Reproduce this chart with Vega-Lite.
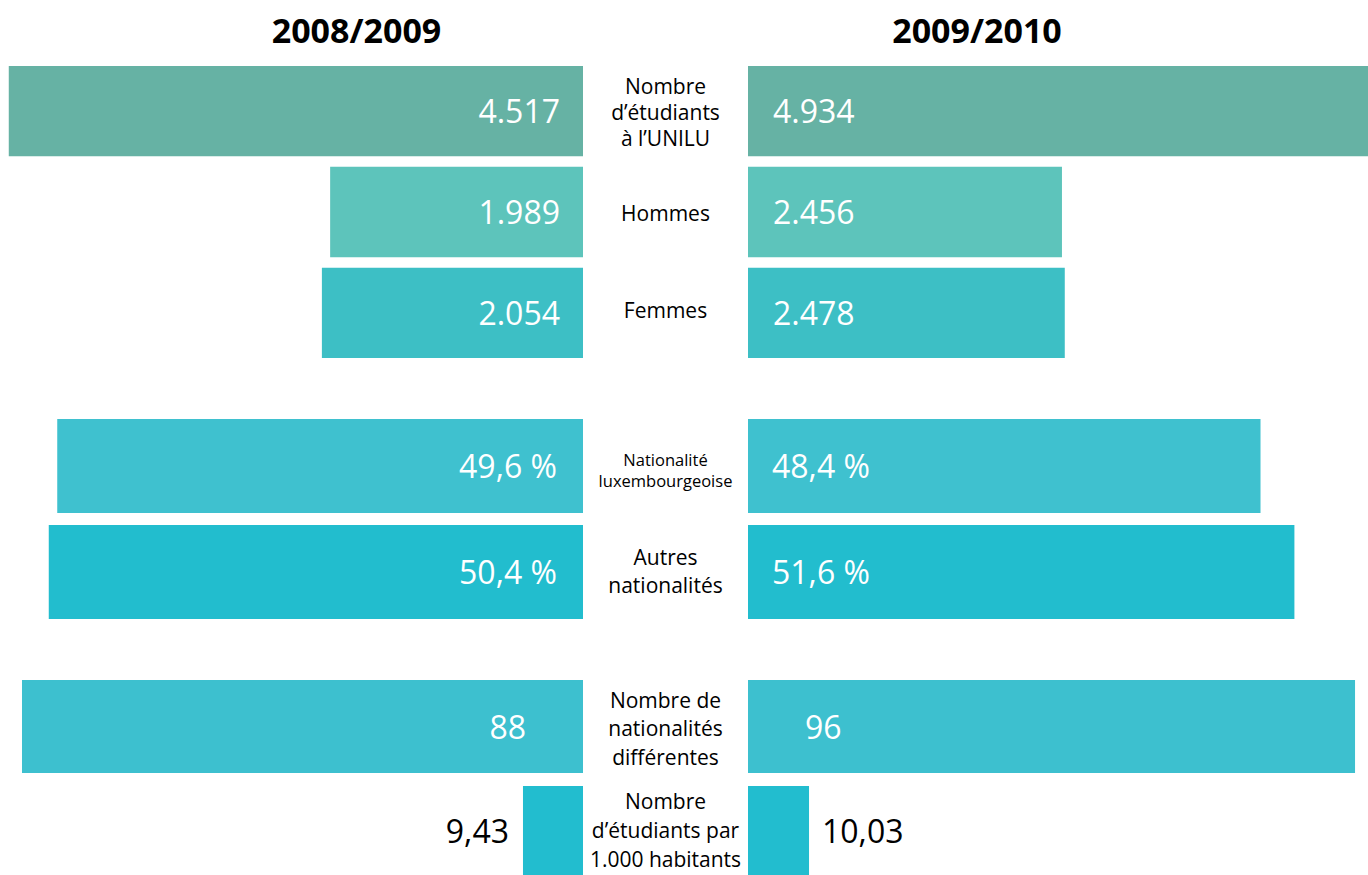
{
  "$schema": "https://vega.github.io/schema/vega-lite/v6.json",
  "padding": 0,
  "spacing": 0,
  "config": {
    "view": {"stroke": null},
    "locale": {"number": {"decimal": ",", "thousands": ".", "grouping": [3], "currency": ["", " €"], "percent": " %"}},
    "text": {"font": "Open Sans"}
  },
  "datasets": {
    "stats": [
      {"groupe": "effectifs", "mesure": "Nombre\nd’étudiants\nà l’UNILU", "annee": "2008/2009", "valeur": 4517},
      {"groupe": "effectifs", "mesure": "Nombre\nd’étudiants\nà l’UNILU", "annee": "2009/2010", "valeur": 4934},
      {"groupe": "effectifs", "mesure": "Hommes", "annee": "2008/2009", "valeur": 1989},
      {"groupe": "effectifs", "mesure": "Hommes", "annee": "2009/2010", "valeur": 2456},
      {"groupe": "effectifs", "mesure": "Femmes", "annee": "2008/2009", "valeur": 2054},
      {"groupe": "effectifs", "mesure": "Femmes", "annee": "2009/2010", "valeur": 2478},
      {"groupe": "nationalite", "mesure": "Nationalité\nluxembourgeoise", "annee": "2008/2009", "valeur": 0.496},
      {"groupe": "nationalite", "mesure": "Nationalité\nluxembourgeoise", "annee": "2009/2010", "valeur": 0.484},
      {"groupe": "nationalite", "mesure": "Autres\nnationalités", "annee": "2008/2009", "valeur": 0.504},
      {"groupe": "nationalite", "mesure": "Autres\nnationalités", "annee": "2009/2010", "valeur": 0.516},
      {"groupe": "diversite", "mesure": "Nombre de\nnationalités\ndifférentes", "annee": "2008/2009", "valeur": 88},
      {"groupe": "diversite", "mesure": "Nombre de\nnationalités\ndifférentes", "annee": "2009/2010", "valeur": 96},
      {"groupe": "densite", "mesure": "Nombre\nd’étudiants par\n1.000 habitants", "annee": "2008/2009", "valeur": 9.43},
      {"groupe": "densite", "mesure": "Nombre\nd’étudiants par\n1.000 habitants", "annee": "2009/2010", "valeur": 10.03}
    ]
  },
  "vconcat": [
    {
      "hconcat": [
        {
          "width": 583, "height": 66,
          "data": {"values": [{"annee": "2008/2009"}]},
          "mark": {"type": "text", "fontSize": 34, "fontWeight": "bold", "dx": 65, "color": "black"},
          "encoding": {"text": {"field": "annee", "type": "nominal"}}
        },
        {
          "width": 785, "height": 66,
          "data": {"values": [{"annee": "2009/2010"}]},
          "mark": {"type": "text", "fontSize": 34, "fontWeight": "bold", "dx": 1.5, "color": "black"},
          "encoding": {"text": {"field": "annee", "type": "nominal"}}
        }
      ],
      "spacing": 0, "bounds": "flush"
    },
    {
      "vconcat": [
        {
          "hconcat": [
            {
              "width": 583, "height": 292,
              "data": {"name": "stats"},
              "transform": [{"filter": {"and": [{"field": "groupe", "equal": "effectifs"}, {"field": "annee", "equal": "2008/2009"}]}}],
              "encoding": {"y": {"field": "mesure", "type": "nominal", "sort": null, "axis": null, "scale": {"paddingInner": 0.1045, "paddingOuter": 0}}},
              "layer": [
                {"mark": {"type": "bar", "clip": true},
                 "encoding": {
                   "x": {"field": "valeur", "type": "quantitative", "axis": null, "scale": {"domain": [0, 4586], "reverse": true, "nice": false}},
                   "color": {"field": "mesure", "type": "nominal", "legend": null, "scale": {"domain": ["Nombre\nd’étudiants\nà l’UNILU", "Hommes", "Femmes", "Nationalité\nluxembourgeoise", "Autres\nnationalités", "Nombre de\nnationalités\ndifférentes", "Nombre\nd’étudiants par\n1.000 habitants"], "range": ["#66b2a4", "#5dc4bb", "#3dbfc5", "#3fc1cf", "#22bdce", "#3dc0cf", "#22bdcf"]}}
                 }},
                {"mark": {"type": "text", "align": "right", "dx": -23, "dy": 2, "fontSize": 32, "color": "white"},
                 "encoding": {"x": {"datum": 0, "type": "quantitative"}, "text": {"field": "valeur", "type": "quantitative", "format": ",d"}}}
              ]
            },
            {
              "width": 165, "height": 292,
              "data": {"name": "stats"},
              "transform": [{"filter": {"and": [{"field": "groupe", "equal": "effectifs"}, {"field": "annee", "equal": "2008/2009"}]}}],
              "encoding": {
                "y": {"field": "mesure", "type": "nominal", "sort": null, "axis": null, "scale": {"paddingInner": 0.1045, "paddingOuter": 0}},
                "text": {"field": "mesure", "type": "nominal"}
              },
              "layer": [
                {"transform": [{"filter": {"field": "mesure", "equal": "Nombre\nd’étudiants\nà l’UNILU"}}],
                 "mark": {"type": "text", "fontSize": 21, "lineHeight": 26, "lineBreak": "\n", "dy": -27, "color": "black"}},
                {"transform": [{"filter": {"field": "mesure", "oneOf": ["Hommes", "Femmes"]}}],
                 "mark": {"type": "text", "fontSize": 21, "dy": 3, "color": "black"}}
              ]
            },
            {
              "width": 620, "height": 292,
              "data": {"name": "stats"},
              "transform": [{"filter": {"and": [{"field": "groupe", "equal": "effectifs"}, {"field": "annee", "equal": "2009/2010"}]}}],
              "encoding": {"y": {"field": "mesure", "type": "nominal", "sort": null, "axis": null, "scale": {"paddingInner": 0.1045, "paddingOuter": 0}}},
              "layer": [
                {"mark": {"type": "bar", "clip": true},
                 "encoding": {
                   "x": {"field": "valeur", "type": "quantitative", "axis": null, "scale": {"domain": [0, 4850], "nice": false}},
                   "color": {"field": "mesure", "type": "nominal", "legend": null, "scale": {"domain": ["Nombre\nd’étudiants\nà l’UNILU", "Hommes", "Femmes", "Nationalité\nluxembourgeoise", "Autres\nnationalités", "Nombre de\nnationalités\ndifférentes", "Nombre\nd’étudiants par\n1.000 habitants"], "range": ["#66b2a4", "#5dc4bb", "#3dbfc5", "#3fc1cf", "#22bdce", "#3dc0cf", "#22bdcf"]}}
                 }},
                {"mark": {"type": "text", "align": "left", "dx": 25, "dy": 2, "fontSize": 32, "color": "white"},
                 "encoding": {"x": {"datum": 0, "type": "quantitative"}, "text": {"field": "valeur", "type": "quantitative", "format": ",d"}}}
              ]
            }
          ],
          "spacing": 0, "bounds": "flush"
        },
        {
          "hconcat": [
            {
              "width": 583, "height": 200,
              "data": {"name": "stats"},
              "transform": [{"filter": {"and": [{"field": "groupe", "equal": "nationalite"}, {"field": "annee", "equal": "2008/2009"}]}}],
              "encoding": {"y": {"field": "mesure", "type": "nominal", "sort": null, "axis": null, "scale": {"paddingInner": 0.113, "paddingOuter": 0}}},
              "layer": [
                {"mark": {"type": "bar", "clip": true},
                 "encoding": {
                   "x": {"field": "valeur", "type": "quantitative", "axis": null, "scale": {"domain": [0, 0.55], "reverse": true, "nice": false}},
                   "color": {"field": "mesure", "type": "nominal", "legend": null, "scale": {"domain": ["Nombre\nd’étudiants\nà l’UNILU", "Hommes", "Femmes", "Nationalité\nluxembourgeoise", "Autres\nnationalités", "Nombre de\nnationalités\ndifférentes", "Nombre\nd’étudiants par\n1.000 habitants"], "range": ["#66b2a4", "#5dc4bb", "#3dbfc5", "#3fc1cf", "#22bdce", "#3dc0cf", "#22bdcf"]}}
                 }},
                {"mark": {"type": "text", "align": "right", "dx": -26, "dy": 2, "fontSize": 32, "color": "white"},
                 "encoding": {"x": {"datum": 0, "type": "quantitative"}, "text": {"field": "valeur", "type": "quantitative", "format": ".1%"}}}
              ]
            },
            {
              "width": 165, "height": 200,
              "data": {"name": "stats"},
              "transform": [{"filter": {"and": [{"field": "groupe", "equal": "nationalite"}, {"field": "annee", "equal": "2008/2009"}]}}],
              "encoding": {
                "y": {"field": "mesure", "type": "nominal", "sort": null, "axis": null, "scale": {"paddingInner": 0.113, "paddingOuter": 0}},
                "text": {"field": "mesure", "type": "nominal"}
              },
              "layer": [
                {"transform": [{"filter": {"field": "mesure", "equal": "Nationalité\nluxembourgeoise"}}],
                 "mark": {"type": "text", "fontSize": 16.5, "lineHeight": 21, "lineBreak": "\n", "dy": -8, "color": "black"}},
                {"transform": [{"filter": {"field": "mesure", "equal": "Autres\nnationalités"}}],
                 "mark": {"type": "text", "fontSize": 21, "lineHeight": 28, "lineBreak": "\n", "dy": -10, "color": "black"}}
              ]
            },
            {
              "width": 620, "height": 200,
              "data": {"name": "stats"},
              "transform": [{"filter": {"and": [{"field": "groupe", "equal": "nationalite"}, {"field": "annee", "equal": "2009/2010"}]}}],
              "encoding": {"y": {"field": "mesure", "type": "nominal", "sort": null, "axis": null, "scale": {"paddingInner": 0.113, "paddingOuter": 0}}},
              "layer": [
                {"mark": {"type": "bar", "clip": true},
                 "encoding": {
                   "x": {"field": "valeur", "type": "quantitative", "axis": null, "scale": {"domain": [0, 0.5855], "nice": false}},
                   "color": {"field": "mesure", "type": "nominal", "legend": null, "scale": {"domain": ["Nombre\nd’étudiants\nà l’UNILU", "Hommes", "Femmes", "Nationalité\nluxembourgeoise", "Autres\nnationalités", "Nombre de\nnationalités\ndifférentes", "Nombre\nd’étudiants par\n1.000 habitants"], "range": ["#66b2a4", "#5dc4bb", "#3dbfc5", "#3fc1cf", "#22bdce", "#3dc0cf", "#22bdcf"]}}
                 }},
                {"mark": {"type": "text", "align": "left", "dx": 24, "dy": 2, "fontSize": 32, "color": "white"},
                 "encoding": {"x": {"datum": 0, "type": "quantitative"}, "text": {"field": "valeur", "type": "quantitative", "format": ".1%"}}}
              ]
            }
          ],
          "spacing": 0, "bounds": "flush"
        },
        {
          "vconcat": [
            {
              "hconcat": [
                {
                  "width": 583, "height": 93,
                  "data": {"name": "stats"},
                  "transform": [{"filter": {"and": [{"field": "groupe", "equal": "diversite"}, {"field": "annee", "equal": "2008/2009"}]}}],
                  "encoding": {"y": {"field": "mesure", "type": "nominal", "sort": null, "axis": null, "scale": {"paddingInner": 0, "paddingOuter": 0}}},
                  "layer": [
                    {"mark": {"type": "bar", "clip": true},
                     "encoding": {
                       "x": {"field": "valeur", "type": "quantitative", "axis": null, "scale": {"domain": [0, 91.45], "reverse": true, "nice": false}},
                       "color": {"field": "mesure", "type": "nominal", "legend": null, "scale": {"domain": ["Nombre\nd’étudiants\nà l’UNILU", "Hommes", "Femmes", "Nationalité\nluxembourgeoise", "Autres\nnationalités", "Nombre de\nnationalités\ndifférentes", "Nombre\nd’étudiants par\n1.000 habitants"], "range": ["#66b2a4", "#5dc4bb", "#3dbfc5", "#3fc1cf", "#22bdce", "#3dc0cf", "#22bdcf"]}}
                     }},
                    {"mark": {"type": "text", "align": "right", "dx": -57, "dy": 2, "fontSize": 32, "color": "white"},
                     "encoding": {"x": {"datum": 0, "type": "quantitative"}, "text": {"field": "valeur", "type": "quantitative", "format": "d"}}}
                  ]
                },
                {
                  "width": 165, "height": 93,
                  "data": {"name": "stats"},
                  "transform": [{"filter": {"and": [{"field": "groupe", "equal": "diversite"}, {"field": "annee", "equal": "2008/2009"}]}}],
                  "mark": {"type": "text", "fontSize": 21, "lineHeight": 28.5, "lineBreak": "\n", "dy": -25, "color": "black"},
                  "encoding": {
                    "y": {"field": "mesure", "type": "nominal", "sort": null, "axis": null, "scale": {"paddingInner": 0, "paddingOuter": 0}},
                    "text": {"field": "mesure", "type": "nominal"}
                  }
                },
                {
                  "width": 620, "height": 93,
                  "data": {"name": "stats"},
                  "transform": [{"filter": {"and": [{"field": "groupe", "equal": "diversite"}, {"field": "annee", "equal": "2009/2010"}]}}],
                  "encoding": {"y": {"field": "mesure", "type": "nominal", "sort": null, "axis": null, "scale": {"paddingInner": 0, "paddingOuter": 0}}},
                  "layer": [
                    {"mark": {"type": "bar", "clip": true},
                     "encoding": {
                       "x": {"field": "valeur", "type": "quantitative", "axis": null, "scale": {"domain": [0, 98.05], "nice": false}},
                       "color": {"field": "mesure", "type": "nominal", "legend": null, "scale": {"domain": ["Nombre\nd’étudiants\nà l’UNILU", "Hommes", "Femmes", "Nationalité\nluxembourgeoise", "Autres\nnationalités", "Nombre de\nnationalités\ndifférentes", "Nombre\nd’étudiants par\n1.000 habitants"], "range": ["#66b2a4", "#5dc4bb", "#3dbfc5", "#3fc1cf", "#22bdce", "#3dc0cf", "#22bdcf"]}}
                     }},
                    {"mark": {"type": "text", "align": "left", "dx": 57, "dy": 2, "fontSize": 32, "color": "white"},
                     "encoding": {"x": {"datum": 0, "type": "quantitative"}, "text": {"field": "valeur", "type": "quantitative", "format": "d"}}}
                  ]
                }
              ],
              "spacing": 0, "bounds": "flush"
            },
            {
              "hconcat": [
                {
                  "width": 583, "height": 89,
                  "data": {"name": "stats"},
                  "transform": [{"filter": {"and": [{"field": "groupe", "equal": "densite"}, {"field": "annee", "equal": "2008/2009"}]}}],
                  "encoding": {"y": {"field": "mesure", "type": "nominal", "sort": null, "axis": null, "scale": {"paddingInner": 0, "paddingOuter": 0}}},
                  "layer": [
                    {"mark": {"type": "bar", "clip": true},
                     "encoding": {
                       "x": {"field": "valeur", "type": "quantitative", "axis": null, "scale": {"domain": [0, 91.6], "reverse": true, "nice": false}},
                       "color": {"field": "mesure", "type": "nominal", "legend": null, "scale": {"domain": ["Nombre\nd’étudiants\nà l’UNILU", "Hommes", "Femmes", "Nationalité\nluxembourgeoise", "Autres\nnationalités", "Nombre de\nnationalités\ndifférentes", "Nombre\nd’étudiants par\n1.000 habitants"], "range": ["#66b2a4", "#5dc4bb", "#3dbfc5", "#3fc1cf", "#22bdce", "#3dc0cf", "#22bdcf"]}}
                     }},
                    {"mark": {"type": "text", "align": "right", "dx": -14, "dy": 2, "fontSize": 32, "color": "black"},
                     "encoding": {"x": {"field": "valeur", "type": "quantitative"}, "text": {"field": "valeur", "type": "quantitative", "format": ".2f"}}}
                  ]
                },
                {
                  "width": 165, "height": 89,
                  "data": {"name": "stats"},
                  "transform": [{"filter": {"and": [{"field": "groupe", "equal": "densite"}, {"field": "annee", "equal": "2008/2009"}]}}],
                  "mark": {"type": "text", "fontSize": 21, "lineHeight": 29, "lineBreak": "\n", "dy": -27.5, "color": "black"},
                  "encoding": {
                    "y": {"field": "mesure", "type": "nominal", "sort": null, "axis": null, "scale": {"paddingInner": 0, "paddingOuter": 0}},
                    "text": {"field": "mesure", "type": "nominal"}
                  }
                },
                {
                  "width": 620, "height": 89,
                  "data": {"name": "stats"},
                  "transform": [{"filter": {"and": [{"field": "groupe", "equal": "densite"}, {"field": "annee", "equal": "2009/2010"}]}}],
                  "encoding": {"y": {"field": "mesure", "type": "nominal", "sort": null, "axis": null, "scale": {"paddingInner": 0, "paddingOuter": 0}}},
                  "layer": [
                    {"mark": {"type": "bar", "clip": true},
                     "encoding": {
                       "x": {"field": "valeur", "type": "quantitative", "axis": null, "scale": {"domain": [0, 101.9], "nice": false}},
                       "color": {"field": "mesure", "type": "nominal", "legend": null, "scale": {"domain": ["Nombre\nd’étudiants\nà l’UNILU", "Hommes", "Femmes", "Nationalité\nluxembourgeoise", "Autres\nnationalités", "Nombre de\nnationalités\ndifférentes", "Nombre\nd’étudiants par\n1.000 habitants"], "range": ["#66b2a4", "#5dc4bb", "#3dbfc5", "#3fc1cf", "#22bdce", "#3dc0cf", "#22bdcf"]}}
                     }},
                    {"mark": {"type": "text", "align": "left", "dx": 13, "dy": 2, "fontSize": 32, "color": "black"},
                     "encoding": {"x": {"field": "valeur", "type": "quantitative"}, "text": {"field": "valeur", "type": "quantitative", "format": ".2f"}}}
                  ]
                }
              ],
              "spacing": 0, "bounds": "flush"
            }
          ],
          "spacing": 13
        }
      ],
      "spacing": 61
    }
  ]
}
